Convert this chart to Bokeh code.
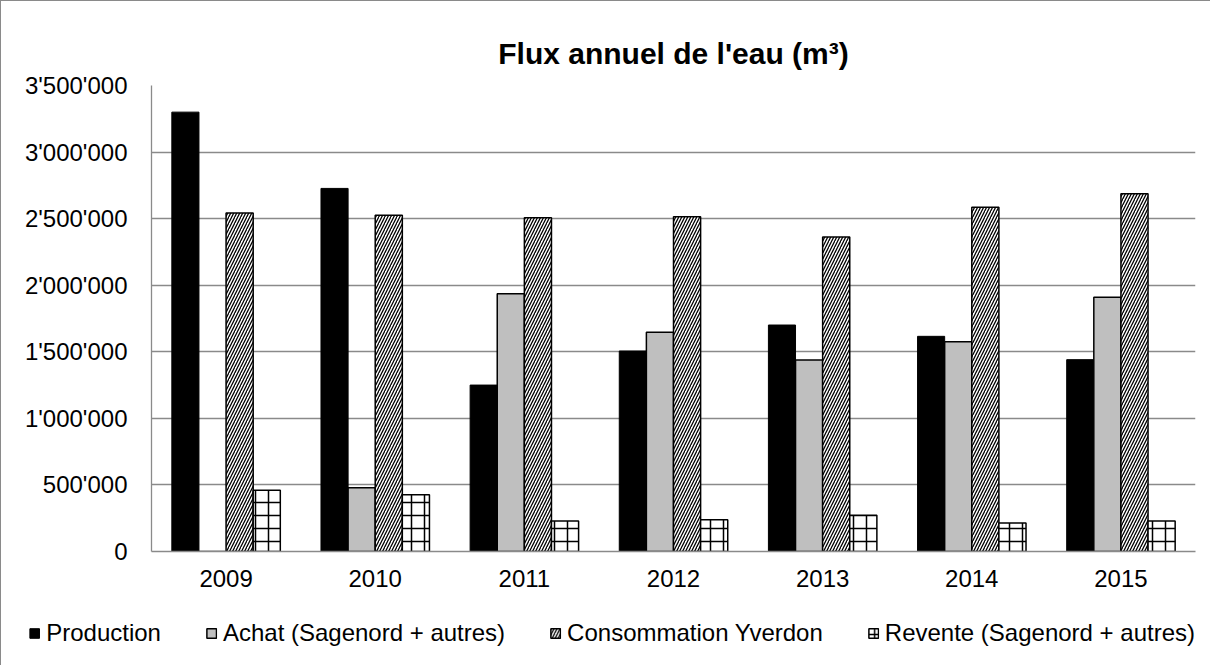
from bokeh.plotting import figure
from bokeh.models import (ColumnDataSource, FactorRange, Legend, LegendItem,
                          CustomJSTickFormatter, SingleIntervalTicker, Range1d)
from bokeh.transform import dodge
from bokeh.embed import file_html
from bokeh.resources import INLINE

years = ["2009", "2010", "2011", "2012", "2013", "2014", "2015"]
production = [3300000, 2727000, 1250000, 1506000, 1701000, 1616000, 1441000]
achat = [None, 479000, 1936000, 1646000, 1438000, 1576000, 1909000]
consommation = [2543000, 2525000, 2507000, 2515000, 2362000, 2585000, 2687000]
revente = [460000, 427000, 229000, 239000, 272000, 214000, 229000]
series_names = ["Production", "Achat (Sagenord + autres)",
                "Consommation Yverdon", "Revente (Sagenord + autres)"]

src = ColumnDataSource(dict(years=years, production=production, achat=achat,
                            consommation=consommation, revente=revente))

FONT = "Liberation Sans"

styles = [
    dict(fill_color="#000000", line_color="#000000", line_width=1),
    dict(fill_color="#bfbfbf", line_color="#000000", line_width=1.5),
    dict(fill_color="#ffffff", line_color="#000000", line_width=1.5,
         hatch_pattern="/", hatch_color="#000000", hatch_scale=6, hatch_weight=1.3),
    dict(fill_color="#ffffff", line_color="#000000", line_width=1.5,
         hatch_pattern="+", hatch_color="#000000", hatch_scale=13, hatch_weight=1.5),
]
cols = ["production", "achat", "consommation", "revente"]

p = figure(frame_width=1044, frame_height=466,
           x_range=FactorRange(*years, range_padding=0),
           y_range=Range1d(0, 3500000), output_backend="svg",
           toolbar_location=None, title="Flux annuel de l'eau (m³)",
           min_border_left=150, min_border_right=15, min_border_top=84,
           min_border_bottom=114)
p.styles = {"border-left": "1px solid #8a8a8a", "border-top": "1px solid #8a8a8a",
            "overflow": "hidden", "max-height": "665px"}

p.title.align = "center"
p.title.text_font = FONT
p.title.text_font_size = "30px"
p.title.text_font_style = "bold"
p.title.text_color = "#000000"
p.title.standoff = 32

bw = 1 / 5.5
offsets = [-1.5, -0.5, 0.5, 1.5]
renderers = []
for c, off, st in zip(cols, offsets, styles):
    renderers.append(p.vbar(x=dodge("years", off * bw, range=p.x_range), top=c,
                            width=bw, source=src, **st))

p.outline_line_color = None
p.background_fill_color = "#ffffff"
p.border_fill_color = "#ffffff"

p.xgrid.grid_line_color = None
p.ygrid.grid_line_color = "#8a8a8a"
p.ygrid.grid_line_width = 1.3

p.yaxis.ticker = SingleIntervalTicker(interval=500000)
p.yaxis.formatter = CustomJSTickFormatter(
    code="return Math.round(tick).toString().replace(/\\B(?=(\\d{3})+(?!\\d))/g, \"'\");")
for ax in (p.xaxis, p.yaxis):
    ax.axis_line_color = "#8a8a8a"
    ax.axis_line_width = 1.3
    ax.major_tick_line_color = None
    ax.minor_tick_line_color = None
    ax.major_tick_out = 0
    ax.major_tick_in = 0
    ax.minor_tick_out = 0
    ax.major_label_text_font = FONT
    ax.major_label_text_font_size = "24px"
    ax.major_label_text_color = "#000000"
p.yaxis.major_label_standoff = 24
p.xaxis.major_label_standoff = 18

legend = Legend(items=[LegendItem(label=n, renderers=[r])
                       for n, r in zip(series_names, renderers)],
                orientation="horizontal", location="top_right",
                glyph_width=12, glyph_height=12, label_standoff=6,
                label_height=88, spacing=44, padding=0, margin=0,
                label_text_font=FONT, label_text_font_size="24px",
                label_text_color="#000000",
                border_line_color=None, background_fill_alpha=0)
p.add_layout(legend, "below")

open("out.html", "w").write(file_html(p, INLINE))
